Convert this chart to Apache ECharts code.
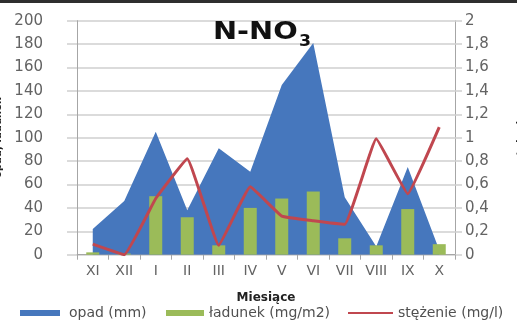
<!DOCTYPE html>
<html>
<head>
<meta charset="utf-8">
<script src="https://cdn.jsdelivr.net/npm/echarts@6/dist/echarts.min.js"></script>
<style>
  html, body { margin: 0; padding: 0; background: #fff; }
  #chart { width: 517px; height: 327px; }
</style>
</head>
<body>
<div id="chart"></div>
<script>
// Months of the hydrological year (XI – X)
const months = ['XI', 'XII', 'I', 'II', 'III', 'IV', 'V', 'VI', 'VII', 'VIII', 'IX', 'X'];
// Precipitation, mm (left axis)
const opad = [22, 46, 105, 38, 91, 71, 145, 181, 49, 7, 75, 4];
// N-NO3 load, mg/m2 (left axis)
const ladunek = [2, 1, 50, 32, 8, 40, 48, 54, 14, 8, 39, 9];
// N-NO3 concentration, mg/l (right axis)
const stezenie = [0.09, 0.0, 0.48, 0.82, 0.08, 0.58, 0.33, 0.29, 0.26, 0.99, 0.52, 1.09];

const FONT = 'DejaVu Sans';
const LABEL = '#636363';
const GRID = '#cfcfcf';
const AXIS = '#a6a6a6';

const chart = echarts.init(document.getElementById('chart'));

const commaFmt = v => String(+v.toFixed(1)).replace('.', ',');

chart.setOption({
  animation: false,
  backgroundColor: '#ffffff',
  textStyle: { fontFamily: FONT },
  grid: { left: 77, right: 62, top: 20.7, bottom: 72.3, containLabel: false, outerBoundsMode: 'none' },
  graphic: [
    { type: 'rect', left: 0, top: 0, shape: { width: 517, height: 3 }, style: { fill: '#2e2e2e' }, z: 100 },
    { type: 'text', x: 213, y: 21, scaleX: 1.2, originX: 0, z: 100,
      style: { text: 'N-NO', font: 'bold 24px "DejaVu Sans"', fill: '#111' } },
    { type: 'text', x: 299, y: 35, scaleX: 1.15, originX: 0, z: 100,
      style: { text: '3', font: 'bold 15px "DejaVu Sans"', fill: '#111' } }
  ],
  legend: [
    { left: 20, top: 306, padding: 0, itemWidth: 40, itemHeight: 6, icon: 'rect',
      data: ['opad (mm)'], textStyle: { fontSize: 14, color: '#505050', fontFamily: FONT, padding: [0, 0, 0, 4] } },
    { left: 166, top: 306, padding: 0, itemWidth: 38, itemHeight: 6, icon: 'rect',
      data: ['ładunek (mg/m2)'], textStyle: { fontSize: 14, color: '#505050', fontFamily: FONT } },
    { left: 348, top: 306, padding: 0, itemWidth: 45, itemHeight: 2, icon: 'rect',
      data: ['stężenie (mg/l)'], textStyle: { fontSize: 14, color: '#505050', fontFamily: FONT } }
  ],
  xAxis: {
    type: 'category',
    data: months,
    boundaryGap: true,
    name: 'Miesiące',
    nameLocation: 'middle',
    nameGap: 37,
    nameTextStyle: { fontSize: 12, fontWeight: 'bold', color: '#222', fontFamily: FONT },
    axisLine: { lineStyle: { color: AXIS, width: 1 } },
    axisTick: { show: true, length: 5, lineStyle: { color: AXIS } },
    axisLabel: { interval: 0, fontSize: 14, color: LABEL, margin: 10, fontFamily: FONT }
  },
  yAxis: [
    {
      type: 'value', position: 'left', min: 0, max: 200, interval: 20,
      name: 'opad, ładunek',
      nameLocation: 'middle', nameRotate: 90, nameGap: 64,
      nameTextStyle: { fontSize: 10, fontWeight: 'bold', color: '#222', fontFamily: FONT },
      axisLine: { show: true, lineStyle: { color: AXIS } },
      axisTick: { show: true, length: 10, lineStyle: { color: GRID, width: 1.5 } },
      splitLine: { lineStyle: { color: GRID, width: 1.5 } },
      axisLabel: { fontSize: 15, color: LABEL, margin: 34, align: 'right', fontFamily: FONT }
    },
    {
      type: 'value', position: 'right', min: 0, max: 2, interval: 0.2,
      name: 'stężenie',
      nameLocation: 'middle', nameRotate: 90, nameGap: 61,
      nameTextStyle: { fontSize: 10, fontWeight: 'bold', color: '#222', fontFamily: FONT },
      axisLine: { show: true, lineStyle: { color: AXIS } },
      axisTick: { show: true, length: 7, lineStyle: { color: GRID, width: 1.5 } },
      splitLine: { show: false },
      axisLabel: { fontSize: 15, color: LABEL, margin: 10, align: 'left', fontFamily: FONT, formatter: commaFmt }
    }
  ],
  series: [
    {
      name: 'opad (mm)',
      type: 'line',
      data: opad,
      yAxisIndex: 0,
      symbol: 'none',
      lineStyle: { width: 0, color: '#4677bd' },
      itemStyle: { color: '#4677bd' },
      areaStyle: { color: '#4677bd', opacity: 1 },
      z: 1
    },
    {
      name: 'ładunek (mg/m2)',
      type: 'bar',
      data: ladunek,
      yAxisIndex: 0,
      barWidth: 13,
      itemStyle: { color: '#9bbb59' },
      z: 2
    },
    {
      name: 'stężenie (mg/l)',
      type: 'line',
      data: stezenie,
      yAxisIndex: 1,
      symbol: 'none',
      smooth: 0.08,
      lineStyle: { width: 3, color: '#c0474f' },
      itemStyle: { color: '#c0474f' },
      z: 3
    }
  ]
});
</script>
</body>
</html>
